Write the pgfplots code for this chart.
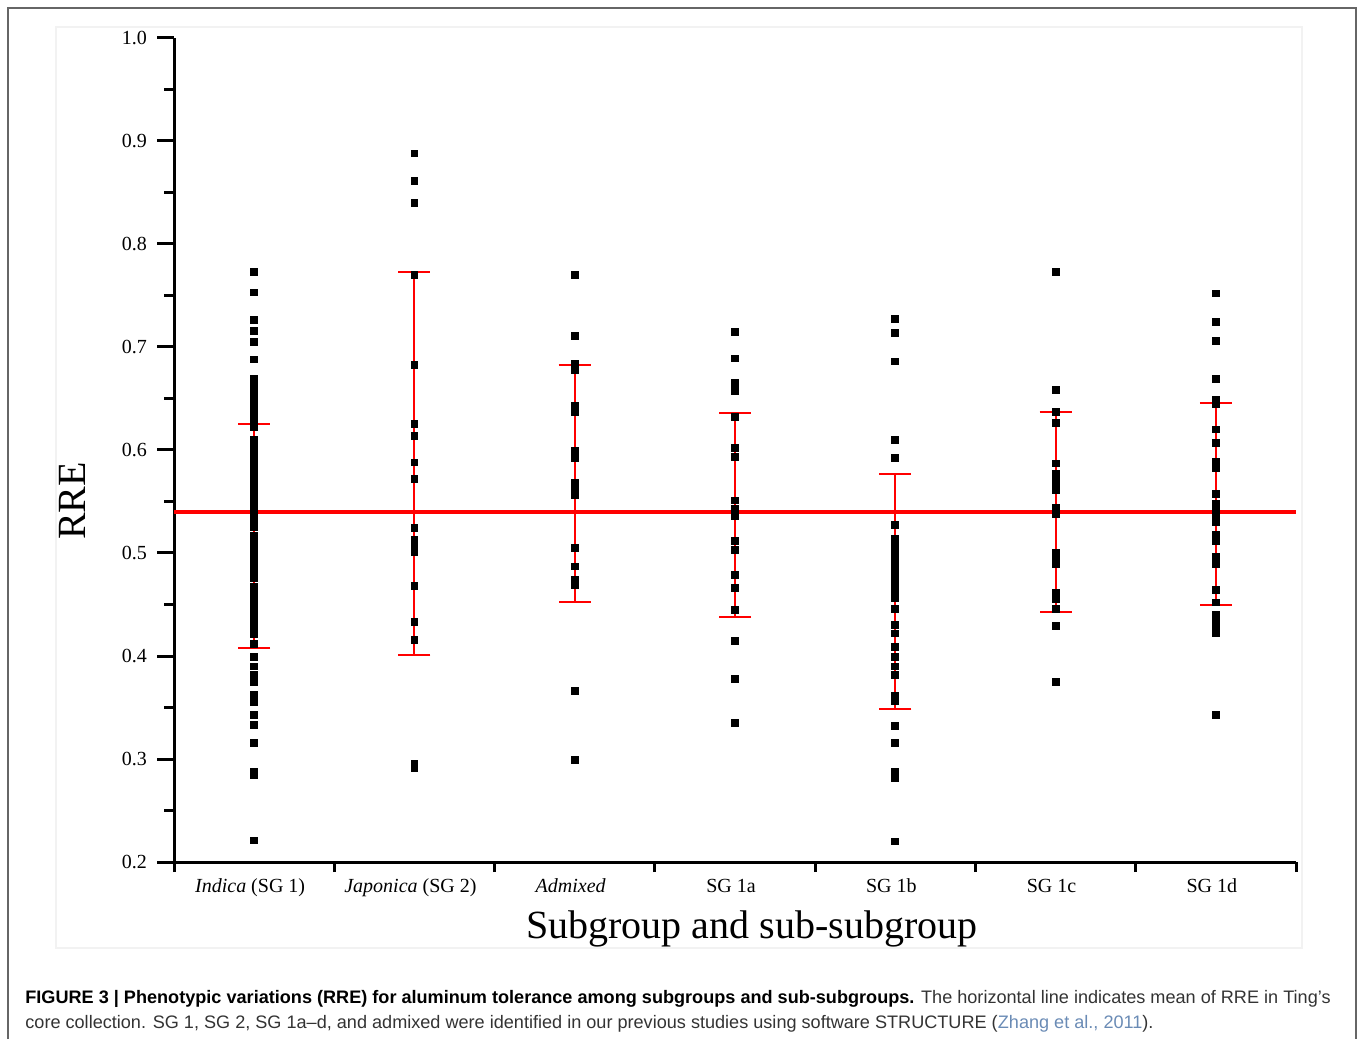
\documentclass[border=0pt]{standalone}
\usepackage{pgfplots}
\pgfplotsset{compat=1.18}
\usepackage{fontspec}
\setmainfont{Liberation Serif}
\newfontfamily\capfont{Liberation Sans}
\definecolor{frame}{HTML}{666666}
\definecolor{panel}{HTML}{F2F2F2}
\definecolor{cite}{HTML}{6A8BB5}
\definecolor{captext}{HTML}{333333}

\begin{document}
\begin{tikzpicture}
\useasboundingbox (0,0) rectangle (679pt,519.5pt);
% page frame and faint panel
\draw[frame, line width=1pt] (4pt,0) -- (4pt,515.5pt) -- (678pt,515.5pt) -- (678pt,0);
\draw[panel, line width=1pt] (28pt,45.5pt) rectangle (651pt,506pt);

\begin{axis}[
  at={(87pt,88.5pt)}, anchor=south west,
  scale only axis, width=561pt, height=412pt,
  xmin=-0.5, xmax=6.5, ymin=0.2, ymax=1.0,
  axis x line*=bottom, axis y line*=left,
  axis line style={line width=1.5pt, -},
  tick align=outside,
  tick style={line width=1.5pt, black},
  major tick length=8.5pt, minor tick length=5pt,
  xtick={0,...,6},
  xticklabels={\textit{Indica} (SG 1),\textit{Japonica} (SG 2),\textit{Admixed},SG 1a,SG 1b,SG 1c,SG 1d},
  major x tick style={draw=none},
  minor xtick={-0.5,0.5,...,6.5},
  xticklabel style={yshift=3.5pt, xshift=-2pt},
  ytick={0.2,0.3,...,1.0},
  minor y tick num=1,
  yticklabel style={xshift=-1.5pt, /pgf/number format/.cd, fixed, fixed zerofill, precision=1},
  /pgf/number format/assume math mode=true,
  tick label style={font=\fontsize{10}{12}\selectfont},
  xlabel={Subgroup and sub-subgroup},
  ylabel={RRE},
  xlabel style={at={(axis description cs:0.515,-0.081)}, anchor=center, font=\fontsize{20}{24}\selectfont},
  ylabel style={at={(axis description cs:-0.0909,0.438)}, anchor=center, font=\fontsize{20}{24}\selectfont},
  clip=false,
]
% individual accessions
\addplot[only marks, mark=square*, mark size=1.7pt, black] coordinates {
(0,0.773) (0,0.753) (0,0.726) (0,0.716) (0,0.705) (0,0.688) (0,0.669) (0,0.664)
(0,0.658) (0,0.652) (0,0.646) (0,0.640) (0,0.634) (0,0.628) (0,0.622) (0,0.610)
(0,0.604) (0,0.600) (0,0.593) (0,0.587) (0,0.583) (0,0.577) (0,0.571) (0,0.568)
(0,0.561) (0,0.555) (0,0.550) (0,0.543) (0,0.537) (0,0.531) (0,0.525) (0,0.517)
(0,0.511) (0,0.505) (0,0.499) (0,0.493) (0,0.487) (0,0.481) (0,0.476) (0,0.467)
(0,0.461) (0,0.455) (0,0.449) (0,0.443) (0,0.440) (0,0.432) (0,0.426) (0,0.421)
(0,0.412) (0,0.399) (0,0.390) (0,0.382) (0,0.375) (0,0.362) (0,0.355) (0,0.343)
(0,0.333) (0,0.316) (0,0.288) (0,0.284) (0,0.221)
(1,0.888) (1,0.861) (1,0.840) (1,0.770) (1,0.683) (1,0.625) (1,0.614) (1,0.588)
(1,0.572) (1,0.524) (1,0.513) (1,0.506) (1,0.501) (1,0.468) (1,0.433) (1,0.416)
(1,0.295) (1,0.291)
(2,0.770) (2,0.711) (2,0.684) (2,0.678) (2,0.643) (2,0.637) (2,0.599) (2,0.592)
(2,0.568) (2,0.563) (2,0.556) (2,0.505) (2,0.487) (2,0.474) (2,0.469) (2,0.366)
(2,0.299)
(3,0.715) (3,0.689) (3,0.665) (3,0.657) (3,0.632) (3,0.602) (3,0.593) (3,0.551)
(3,0.543) (3,0.536) (3,0.512) (3,0.503) (3,0.479) (3,0.466) (3,0.445) (3,0.415)
(3,0.378) (3,0.335)
(4,0.727) (4,0.714) (4,0.686) (4,0.610) (4,0.592) (4,0.527) (4,0.514) (4,0.508)
(4,0.502) (4,0.496) (4,0.490) (4,0.484) (4,0.478) (4,0.473) (4,0.467) (4,0.461)
(4,0.456) (4,0.446) (4,0.430) (4,0.422) (4,0.409) (4,0.399) (4,0.390) (4,0.382)
(4,0.361) (4,0.356) (4,0.332) (4,0.316) (4,0.288) (4,0.282) (4,0.220)
(5,0.773) (5,0.658) (5,0.637) (5,0.626) (5,0.587) (5,0.577) (5,0.569) (5,0.561)
(5,0.544) (5,0.538) (5,0.500) (5,0.495) (5,0.489) (5,0.461) (5,0.455) (5,0.446)
(5,0.429) (5,0.375)
(6,0.752) (6,0.724) (6,0.706) (6,0.669) (6,0.649) (6,0.645) (6,0.620) (6,0.607)
(6,0.589) (6,0.583) (6,0.557) (6,0.548) (6,0.543) (6,0.537) (6,0.530) (6,0.518)
(6,0.512) (6,0.496) (6,0.489) (6,0.464) (6,0.452) (6,0.440) (6,0.432) (6,0.427)
(6,0.422) (6,0.343)
};
% mean +- SD of each group
\addplot[red, draw=none, mark=none,
  error bars/.cd, y dir=both, y explicit,
  error bar style={draw=red, line width=1pt},
  error mark options={rotate=90, draw=red, mark size=8pt, line width=1pt}]
coordinates {
(0,0.5165) +- (0,0.1085)
(1,0.587) +- (0,0.186)
(2,0.5675) +- (0,0.1155)
(3,0.537) +- (0,0.099)
(4,0.463) +- (0,0.114)
(5,0.540) +- (0,0.097)
(6,0.548) +- (0,0.098)
};
% mean of the core collection
\addplot[red, line width=2pt] coordinates {(-0.5,0.540) (6.5,0.540)};
\end{axis}

% figure caption
\node[anchor=base west, inner sep=0pt, font=\capfont\fontsize{9.05}{11}\selectfont, text=captext] at (12.5pt,18pt)
  {\textcolor{black}{\textbf{FIGURE 3 | Phenotypic variations (RRE) for aluminum tolerance among subgroups and sub-subgroups.}} The horizontal line indicates mean of RRE in Ting’s};
\node[anchor=base west, inner sep=0pt, font=\capfont\fontsize{9.05}{11}\selectfont, text=captext] at (12.5pt,5.5pt)
  {core collection. SG 1, SG 2, SG 1a–d, and admixed were identified in our previous studies using software STRUCTURE (\textcolor{cite}{Zhang et al., 2011}).};
\end{tikzpicture}
\end{document}
